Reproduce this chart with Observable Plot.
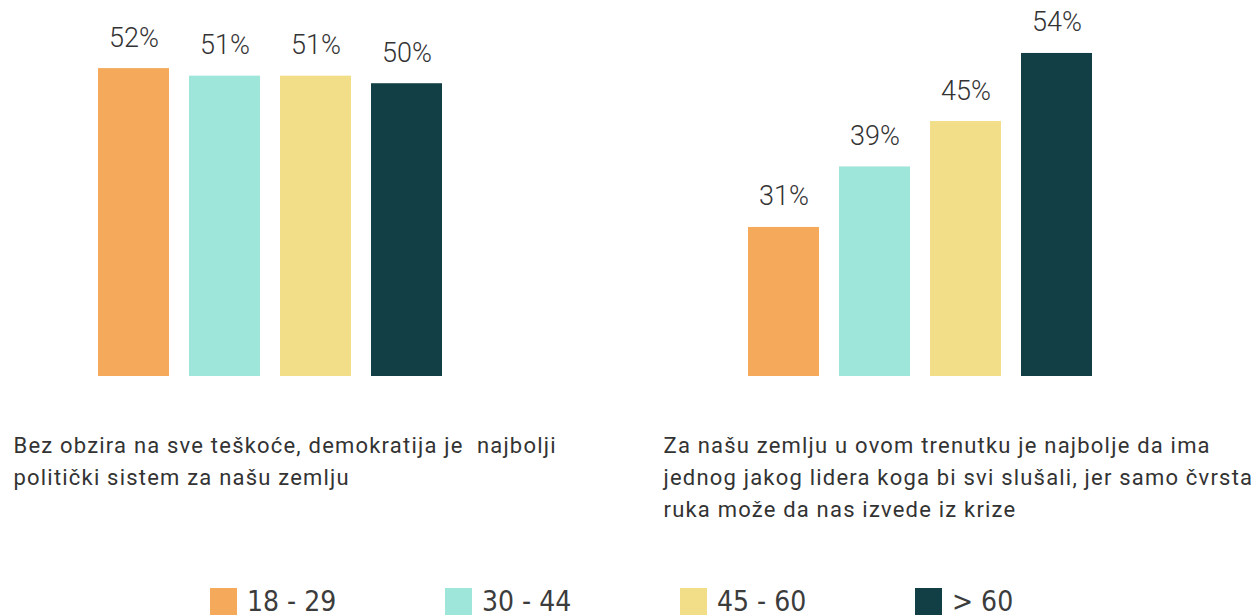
<!DOCTYPE html>
<html><head><meta charset="utf-8">
<script src="https://cdn.jsdelivr.net/npm/d3@7"></script>
<script src="https://cdn.jsdelivr.net/npm/@observablehq/plot@0.6"></script>
<style>
html,body{margin:0;padding:0;background:#fff;overflow:hidden;width:1257px;height:616px;}
#chart svg text{white-space:pre;}
#legend{display:flex;padding-left:210px;margin-top:28px;}
.item{display:flex;align-items:flex-start;width:235px;flex:none;}
.sw{width:27px;height:27px;flex:none;}
.lab{margin-left:10px;font-family:"DejaVu Sans Condensed","DejaVu Sans",sans-serif;font-size:28px;line-height:1;color:#3c3c3c;white-space:nowrap;}
</style></head><body>
<div id="chart"></div>
<div id="legend"></div>
<script>
const ageGroups = ["18 - 29", "30 - 44", "45 - 60", "> 60"];
const questions = [
  "Bez obzira na sve teškoće, demokratija je  najbolji\npolitički sistem za našu zemlju",
  "Za našu zemlju u ovom trenutku je najbolje da ima\njednog jakog lidera koga bi svi slušali, jer samo čvrsta\nruka može da nas izvede iz krize"
];
const democracyValues = [52, 51, 51, 50];
const strongLeaderValues = [31, 39, 45, 54];
const colors = ["#F4AA5A", "#9FE6DA", "#F2DE89", "#113F45"];

const data = [
  ...ageGroups.map((g, i) => ({question: questions[0], group: g, value: democracyValues[i]})),
  ...ageGroups.map((g, i) => ({question: questions[1], group: g, value: strongLeaderValues[i]}))
];

const H = 560, base = 376;
const chart = Plot.plot({
  width: 1257,
  height: H,
  marginLeft: 96,
  marginRight: 165,
  marginTop: 0,
  marginBottom: H - base,
  style: {fontFamily: "Roboto, sans-serif", background: "#fff"},
  fx: {domain: questions, paddingInner: 0.47, paddingOuter: 0, axis: null},
  x: {domain: ageGroups, paddingInner: 0.2226, paddingOuter: 0, axis: null},
  y: {domain: [11.3, 61], clamp: true, axis: null},
  color: {domain: ageGroups, range: colors},
  marks: [
    Plot.barY(data, {fx: "question", x: "group", y: "value", fill: "group"}),
    Plot.text(data, {fx: "question", x: "group", y: "value", text: d => `${d.value}%`,
      lineAnchor: "bottom", dy: -22, fontSize: 27, fontWeight: 300, fill: "#333"}),
    Plot.text(questions, {fx: d => d, text: d => d, frameAnchor: "bottom-left",
      textAnchor: "start", lineAnchor: "top", dx: -84, dy: 54, fontSize: 22,
      lineHeight: 32 / 22, fill: "#333", style: "letter-spacing:1.2px"})
  ]
});
document.getElementById("chart").appendChild(chart);
chart.querySelectorAll("g[aria-label='text']").forEach((g, i) => {
  if (i === 1) g.setAttribute("letter-spacing", "1.2");
});

const legend = document.getElementById("legend");
ageGroups.forEach((g, i) => {
  const item = document.createElement("div");
  item.className = "item";
  const sw = document.createElement("div");
  sw.className = "sw";
  sw.style.background = colors[i];
  const lab = document.createElement("div");
  lab.className = "lab";
  lab.textContent = g;
  item.appendChild(sw);
  item.appendChild(lab);
  legend.appendChild(item);
});
</script>
</body></html>
